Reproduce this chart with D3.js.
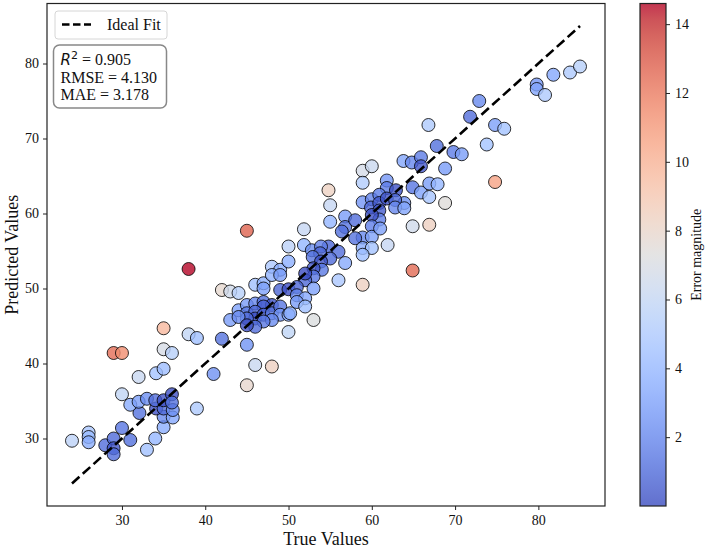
<!DOCTYPE html>
<html>
<head>
<meta charset="utf-8">
<script src="https://cdn.jsdelivr.net/npm/d3@7"></script>
<style>
  body { margin: 0; background: #fff; }
  svg { display: block; font-family: "Liberation Serif", "Times New Roman", serif; }
</style>
</head>
<body>
<svg id="chart" width="706" height="548"></svg>
<script>
// True values (x)
const trueValues = [
  24.0, 26.0, 26.0, 26.0, 28.0, 29.0, 29.0, 29.0, 30.0, 31.0, 33.0, 34.0, 35.0, 35.0, 36.1, 32.1, 34.1, 35.0, 36.1, 31.0,
  32.0, 33.0, 34.0, 35.0, 36.0, 36.0, 30.0, 39.0, 32.0, 34.1, 35.0, 41.0, 29.0, 30.0, 35.0, 36.0, 35.0, 38.0, 39.0, 42.0,
  38.0,
  42.0, 43.0, 44.0, 44.0, 43.0, 45.0, 46.0, 47.0, 48.0, 47.0, 45.0, 46.0, 46.0, 45.0, 44.0, 47.0, 48.0, 49.0, 49.0, 48.0,
  47.0, 46.0, 45.0, 50.0, 50.0, 45.0, 46.0, 48.0, 45.0, 45.0, 46.0, 47.0, 47.0, 49.0, 50.0, 48.0, 49.0, 48.0, 49.0, 50.0,
  51.85, 56.8, 55.0, 56.8, 56.4, 55.0, 54.8, 50.0, 51.85, 52.8, 54.8, 53.9, 53.8, 56.0, 55.0, 52.9, 53.9, 54.0, 53.0, 53.0,
  52.0, 52.0, 56.8, 56.0, 51.0, 53.0, 51.0, 52.0, 51.0, 52.0, 50.2, 53.0, 58.0,
  58.9, 60.0, 58.9, 61.8, 61.8, 62.9, 64.9, 65.9, 66.9, 67.9, 66.9, 68.8, 63.9, 58.9, 60.0, 60.9, 59.9, 60.9, 61.8, 60.9,
  60.9, 60.0, 62.8, 62.8, 63.9, 60.0, 58.9, 60.0, 61.0, 58.0, 58.9, 60.0, 58.9, 61.9, 64.9, 66.9, 64.9, 58.9, 63.8, 64.8,
  65.9, 65.9, 67.8, 69.8, 70.8, 68.8, 66.8, 71.8, 72.9, 74.8, 75.9, 73.8, 74.8, 79.8, 79.8, 80.8, 81.8, 83.8, 85.0
];
// Predicted values (y), same order
const predictedValues = [
  29.7, 30.8, 30.2, 29.5, 29.1, 30.0, 28.7, 27.9, 31.4, 29.8, 28.5, 30.0, 31.5, 32.9, 32.8, 33.4, 34.0, 34.0, 33.8, 34.5,
  34.9, 35.3, 35.1, 35.1, 35.9, 34.8, 35.9, 34.0, 38.2, 38.7, 39.3, 38.6, 41.4, 41.4, 41.9, 41.4, 44.7, 43.9, 43.4, 43.3,
  52.6,
  49.8, 49.6, 49.4, 47.1, 45.8, 47.8, 48.0, 48.2, 47.8, 47.6, 46.7, 46.9, 46.0, 46.0, 46.2, 46.5, 46.7, 47.6, 46.5, 45.8,
  45.6, 44.9, 45.1, 46.5, 44.2, 42.5, 39.8, 39.6, 37.1, 57.7, 50.5, 50.7, 50.0, 49.8, 49.9, 52.9, 52.5, 51.8, 51.8, 53.6,
  57.9, 59.6, 58.9, 58.2, 57.6, 61.1, 63.1, 55.6, 55.8, 55.1, 55.6, 55.6, 54.7, 54.9, 54.0, 54.2, 53.6, 52.5, 52.7, 51.6,
  51.1, 52.0, 53.4, 51.1, 50.2, 50.0, 49.1, 48.7, 48.2, 47.6, 46.7, 45.8, 59.1,
  65.7, 66.3, 64.1, 64.4, 63.4, 63.1, 63.5, 62.8, 64.0, 63.9, 62.2, 61.4, 61.4, 61.5, 61.9, 62.5, 60.8, 61.4, 62.0, 60.4,
  59.2, 59.8, 61.8, 60.8, 60.7, 58.3, 56.8, 56.9, 58.0, 56.7, 55.4, 55.4, 54.5, 55.8, 58.3, 58.5, 52.4, 50.5, 67.0, 66.8,
  67.5, 66.3, 69.0, 68.2, 67.9, 66.0, 71.8, 72.9, 75.0, 71.8, 71.3, 69.2, 64.2, 77.2, 76.6, 75.8, 78.5, 78.8, 79.6
];

const xTicks = [30, 40, 50, 60, 70, 80];
const yTicks = [30, 40, 50, 60, 70, 80];
const cbarTicks = [2, 4, 6, 8, 10, 12, 14];
const statLines = [
  { label: "RMSE", value: "4.130" },
  { label: "MAE", value: "3.178" }
];
const r2Value = "0.905";

// matplotlib "coolwarm" key colours
const coolwarm = [
  "#3b4cc0", "#445acc", "#4d68d7", "#5775e1", "#6282ea", "#6c8ef1", "#779af7", "#82a5fb",
  "#8db0fe", "#98b9ff", "#a3c2ff", "#aec9fd", "#b8d0f9", "#c2d5f4", "#ccd9ee", "#d5dbe6",
  "#dddddd", "#e5d8d1", "#ecd3c5", "#f1ccb9", "#f5c4ad", "#f7bba0", "#f7b194", "#f7a687",
  "#f49a7b", "#f18d6f", "#ec7f63", "#e57058", "#de604d", "#d55042", "#cb3e38", "#c0282f",
  "#b40426"
];

const svg = d3.select("#chart");
const margin = { left: 47, top: 3.5, right: 605, bottom: 506 };

const x = d3.scaleLinear().domain([21, 88]).range([margin.left, margin.right]);
const y = d3.scaleLinear().domain([21, 88]).range([margin.bottom, margin.top]);

const data = trueValues.map((t, i) => ({ t, p: predictedValues[i], err: Math.abs(t - predictedValues[i]) }));
const errExtent = d3.extent(data, d => d.err);

const cmap = d3.scaleLinear()
  .domain(coolwarm.map((c, i) => i / (coolwarm.length - 1)))
  .range(coolwarm)
  .interpolate(d3.interpolateRgb);
const norm = d3.scaleLinear().domain(errExtent).range([0, 1]).clamp(true);

// frame
svg.append("rect")
  .attr("x", margin.left).attr("y", margin.top)
  .attr("width", margin.right - margin.left).attr("height", margin.bottom - margin.top)
  .attr("fill", "none").attr("stroke", "#222").attr("stroke-width", 1.2);

// points
svg.append("g").selectAll("circle")
  .data(data)
  .join("circle")
  .attr("cx", d => x(d.t))
  .attr("cy", d => y(d.p))
  .attr("r", 6.5)
  .attr("fill", d => cmap(norm(d.err)))
  .attr("fill-opacity", 0.8)
  .attr("stroke", "#000")
  .attr("stroke-opacity", 0.8)
  .attr("stroke-width", 1);

// ideal fit line
const lo = d3.min(data, d => Math.min(d.t, d.p));
const hi = d3.max(data, d => Math.max(d.t, d.p));
svg.append("line")
  .attr("x1", x(lo)).attr("y1", y(lo))
  .attr("x2", x(hi)).attr("y2", y(hi))
  .attr("stroke", "#000").attr("stroke-width", 2.6)
  .attr("stroke-dasharray", "10,4.5");

// axes
const xAxis = svg.append("g")
  .attr("transform", `translate(0,${margin.bottom})`)
  .call(d3.axisBottom(x).tickValues(xTicks).tickSize(4).tickPadding(5));
const yAxis = svg.append("g")
  .attr("transform", `translate(${margin.left},0)`)
  .call(d3.axisLeft(y).tickValues(yTicks).tickSize(4).tickPadding(4));
[xAxis, yAxis].forEach(g => {
  g.select(".domain").remove();
  g.selectAll("line").attr("stroke", "#222");
  g.selectAll("text").attr("font-family", "Liberation Serif").attr("font-size", 14).attr("fill", "#111");
});

svg.append("text")
  .attr("x", (margin.left + margin.right) / 2).attr("y", 545)
  .attr("text-anchor", "middle").attr("font-size", 18).attr("fill", "#111")
  .text("True Values");
svg.append("text")
  .attr("transform", `translate(18,${(margin.top + margin.bottom) / 2}) rotate(-90)`)
  .attr("text-anchor", "middle").attr("font-size", 18).attr("fill", "#111")
  .text("Predicted Values");

// legend
const legend = svg.append("g");
legend.append("rect")
  .attr("x", 55).attr("y", 11).attr("width", 112).attr("height", 28).attr("rx", 3)
  .attr("fill", "#fff").attr("fill-opacity", 0.8).attr("stroke", "#d6d6d6");
legend.append("line")
  .attr("x1", 62).attr("x2", 91).attr("y1", 24.5).attr("y2", 24.5)
  .attr("stroke", "#000").attr("stroke-width", 2.6).attr("stroke-dasharray", "7.5,3.5");
legend.append("text")
  .attr("x", 107).attr("y", 30).attr("font-size", 16).attr("fill", "#111")
  .text("Ideal Fit");

// stats box
const stats = svg.append("g");
stats.append("rect")
  .attr("x", 53.5).attr("y", 45).attr("width", 113).attr("height", 63).attr("rx", 6)
  .attr("fill", "#fff").attr("fill-opacity", 0.85).attr("stroke", "#888").attr("stroke-width", 1.5);
const r2 = stats.append("text").attr("x", 60.5).attr("y", 64.5).attr("font-size", 16).attr("fill", "#111");
r2.append("tspan").attr("font-family", "DejaVu Sans").attr("font-style", "italic").attr("font-size", 15).text("R");
r2.append("tspan").attr("font-family", "DejaVu Sans").attr("font-size", 11).attr("dy", -6).text("2");
r2.append("tspan").attr("dy", 6).text(" = " + r2Value);
stats.selectAll("text.stat")
  .data(statLines)
  .join("text")
  .attr("class", "stat")
  .attr("x", 60.5).attr("y", (d, i) => 82.5 + i * 17.5)
  .attr("font-size", 16).attr("fill", "#111")
  .text(d => `${d.label} = ${d.value}`);

// colorbar
const cb = { x: 640, w: 26 };
const cbScale = d3.scaleLinear().domain(errExtent).range([margin.bottom, margin.top]);
const defs = svg.append("defs");
const grad = defs.append("linearGradient").attr("id", "cbar-grad")
  .attr("x1", 0).attr("y1", 1).attr("x2", 0).attr("y2", 0);
grad.selectAll("stop")
  .data(coolwarm)
  .join("stop")
  .attr("offset", (d, i) => i / (coolwarm.length - 1))
  .attr("stop-color", d => d);
svg.append("rect")
  .attr("x", cb.x).attr("y", margin.top).attr("width", cb.w).attr("height", margin.bottom - margin.top)
  .attr("fill", "url(#cbar-grad)").attr("fill-opacity", 0.8);
svg.append("rect")
  .attr("x", cb.x).attr("y", margin.top).attr("width", cb.w).attr("height", margin.bottom - margin.top)
  .attr("fill", "none").attr("stroke", "#222").attr("stroke-width", 1.2);
const cbAxis = svg.append("g")
  .attr("transform", `translate(${cb.x + cb.w},0)`)
  .call(d3.axisRight(cbScale).tickValues(cbarTicks).tickSize(4).tickPadding(5));
cbAxis.select(".domain").remove();
cbAxis.selectAll("line").attr("stroke", "#222");
cbAxis.selectAll("text").attr("font-family", "Liberation Serif").attr("font-size", 14).attr("fill", "#111");
svg.append("text")
  .attr("transform", `translate(701,${(margin.top + margin.bottom) / 2}) rotate(-90)`)
  .attr("text-anchor", "middle").attr("font-size", 14).attr("fill", "#111")
  .text("Error magnitude");
</script>
</body>
</html>
